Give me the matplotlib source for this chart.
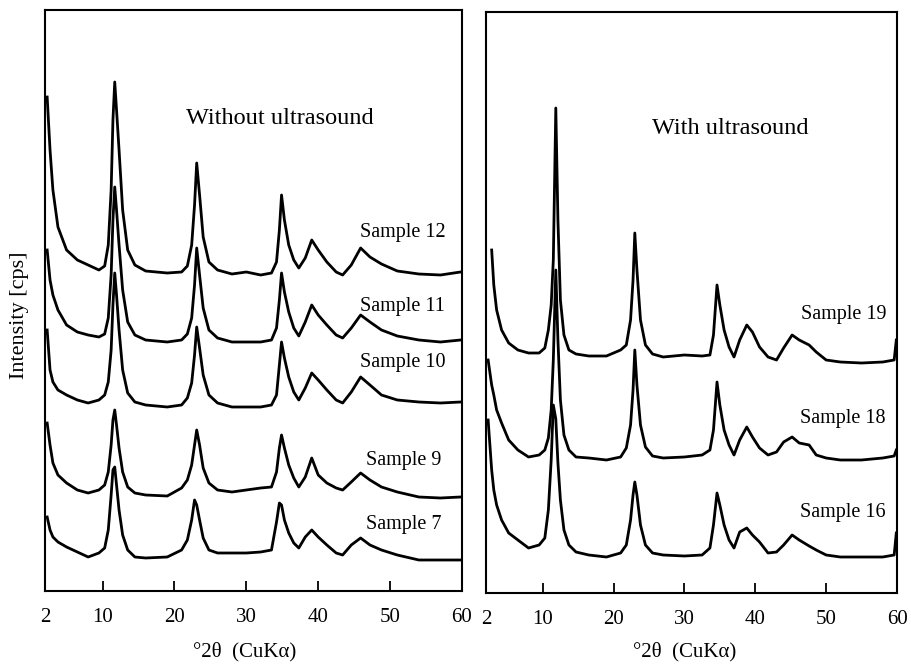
import matplotlib
matplotlib.use('Agg')
import matplotlib.pyplot as plt
import numpy as np

plt.rcParams['font.family'] = ['Liberation Serif', 'DejaVu Serif']

# 2theta grid (deg) used for the left panel (without ultrasound)
two_theta_left = [2.3, 2.7, 3.1, 3.8, 5.0, 6.5, 8.0, 9.5,
                  10.3, 10.8, 11.2, 11.45, 11.7, 11.95, 12.3, 12.8, 13.5, 14.5, 16.0,
                  19.0, 21.0, 21.8, 22.4, 22.8, 23.1, 23.5, 24.0, 24.8, 26.0, 28.0,
                  30.0, 32.0, 33.5, 34.2, 34.6, 34.9, 35.3, 35.9, 36.6, 37.3,
                  38.2, 39.1, 40.0, 41.2, 42.5, 43.4, 44.6, 45.9, 47.2, 48.8,
                  51.0, 54.0, 57.0, 59.8]

# stacked intensities (arbitrary units, offset as in the figure)
sample_12 = [494, 441, 401, 364, 341, 331, 326, 321,
             325, 346, 401, 471, 509, 481, 441, 381, 341, 326, 320,
             318, 319, 325, 346, 386, 428, 396, 354, 329, 321, 317,
             319, 316, 318, 329, 361, 396, 371, 346, 331, 323,
             333, 351, 341, 329, 319, 316, 326, 343, 334, 327,
             320, 317, 316, 319]
sample_11 = [341, 311, 296, 281, 266, 259, 256, 254,
             257, 273, 316, 371, 404, 381, 346, 301, 269, 256, 251,
             249, 251, 257, 273, 306, 343, 316, 283, 261, 253, 249,
             249, 249, 251, 263, 291, 318, 299, 279, 263, 255,
             269, 286, 276, 266, 256, 253, 263, 276, 269, 261,
             255, 251, 249, 251]
sample_10 = [261, 221, 209, 201, 196, 191, 188, 191,
             196, 209, 241, 286, 318, 296, 261, 221, 198, 189, 186,
             184, 186, 193, 208, 236, 264, 243, 216, 196, 188, 184,
             184, 184, 186, 196, 226, 249, 233, 214, 199, 191,
             203, 218, 211, 201, 191, 188, 199, 214, 206, 196,
             191, 189, 188, 189]
sample_9 = [168, 146, 128, 116, 108, 101, 98, 101,
            106, 119, 146, 171, 181, 166, 143, 119, 104, 98, 96,
            95, 103, 111, 126, 146, 161, 146, 123, 108, 101, 99,
            101, 103, 104, 119, 143, 156, 143, 126, 113, 104,
            114, 133, 116, 108, 103, 101, 109, 118, 111, 104,
            99, 94, 93, 94]
sample_7 = [74, 61, 54, 49, 44, 39, 34, 38,
            43, 61, 96, 121, 124, 106, 81, 56, 41, 34, 33,
            34, 41, 51, 71, 91, 86, 71, 53, 41, 38, 38,
            38, 39, 41, 69, 88, 86, 71, 58, 48, 43,
            54, 61, 54, 46, 38, 36, 46, 53, 46, 41,
            36, 31, 31, 31]

# 2theta grid (deg) used for the right panel (with ultrasound)
two_theta_right = [2.3, 2.8, 3.1, 3.5, 4.2, 5.2, 6.5, 8.0, 9.5,
                   10.3, 10.8, 11.2, 11.5, 11.85, 12.15, 12.5, 13.0, 13.7, 14.7,
                   16.5, 19.0, 21.0, 21.8, 22.4, 22.75, 23.0, 23.3, 23.8, 24.5,
                   25.5, 27.0, 30.0, 32.5, 33.6, 34.1, 34.6, 35.0, 35.6, 36.3,
                   37.0, 37.8, 38.8, 39.6, 40.6, 41.8, 43.0, 44.0, 45.2, 46.2,
                   47.6, 48.6, 50.0, 52.0, 55.0, 58.0, 59.6, 59.9]

sample_19 = [np.nan, 343, 308, 283, 263, 250, 243, 240, 240,
             245, 263, 288, 333, 485, 373, 293, 258, 243, 239,
             237, 237, 243, 248, 273, 313, 360, 323, 273, 248,
             239, 236, 238, 237, 238, 258, 308, 288, 263, 246,
             236, 253, 268, 261, 246, 236, 233, 245, 258, 253,
             248, 241, 233, 231, 230, 231, 233, 253]
sample_18 = [233, 208, 198, 183, 170, 153, 143, 136, 138,
             143, 155, 183, 233, 323, 253, 193, 158, 143, 136,
             135, 133, 136, 145, 168, 203, 243, 208, 168, 146,
             137, 135, 136, 138, 143, 163, 211, 188, 163, 148,
             138, 153, 166, 156, 145, 138, 141, 151, 156, 150,
             148, 138, 135, 133, 133, 135, 137, 143]
sample_16 = [173, 123, 103, 88, 73, 60, 53, 45, 48,
             55, 83, 133, 188, 174, 130, 93, 63, 48, 41,
             38, 36, 40, 48, 73, 98, 111, 98, 68, 48,
             40, 38, 37, 38, 45, 68, 100, 88, 68, 53,
             45, 61, 65, 58, 51, 40, 41, 48, 58, 53,
             47, 43, 38, 36, 36, 36, 38, 60]

left_series = [('Sample 12', sample_12), ('Sample 11', sample_11),
               ('Sample 10', sample_10), ('Sample 9', sample_9),
               ('Sample 7', sample_7)]
right_series = [('Sample 19', sample_19), ('Sample 18', sample_18),
                ('Sample 16', sample_16)]

left_label_pos = [(45.8, 358), (45.8, 284), (45.8, 228), (46.6, 131), (46.6, 66)]
right_label_pos = [(46.4, 278), (46.3, 175), (46.3, 80)]

xticks = [2, 10, 20, 30, 40, 50, 60]

fig = plt.figure(figsize=(9.12, 6.68), dpi=100)
ax_l = fig.add_axes([45 / 912, 77 / 668, 417 / 912, 581 / 668])
ax_r = fig.add_axes([486 / 912, 75 / 668, 411 / 912, 581 / 668])


def style_axis(ax):
    ax.set_xlim(2, 60)
    ax.set_ylim(0, 581)
    ax.set_xticks(xticks)
    ax.set_xticklabels([str(t) for t in xticks])
    ax.set_yticks([])
    ax.tick_params(axis='x', direction='in', length=7, width=1.3, pad=12,
                   labelsize=15, top=False)
    for s in ax.spines.values():
        s.set_linewidth(1.5)
        s.set_color('black')


for (name, ys), (lx, ly) in zip(left_series, left_label_pos):
    ax_l.plot(two_theta_left, ys, color='black', linewidth=2.0)
    ax_l.text(lx, ly, name, fontsize=14.5, ha='left', va='center')

for (name, ys), (lx, ly) in zip(right_series, right_label_pos):
    ax_r.plot(two_theta_right, ys, color='black', linewidth=2.0)
    ax_r.text(lx, ly, name, fontsize=14.5, ha='left', va='center')

style_axis(ax_l)
style_axis(ax_r)

ax_l.text(0.5635, 0.814, 'Without ultrasound', transform=ax_l.transAxes,
          fontsize=17.5, ha='center', va='center')
ax_r.text(0.594, 0.800, 'With ultrasound', transform=ax_r.transAxes,
          fontsize=17.5, ha='center', va='center')

fig.text(245 / 912, 1 - 652 / 668, '°2θ  (CuKα)', fontsize=15,
         ha='center', va='center')
fig.text(685 / 912, 1 - 652 / 668, '°2θ  (CuKα)', fontsize=15,
         ha='center', va='center')
fig.text(20 / 912, 1 - 315 / 668, 'Intensity [cps]', fontsize=16,
         rotation=90, ha='center', va='center')

plt.savefig('out.png', dpi=100, facecolor='white')
plt.close()
